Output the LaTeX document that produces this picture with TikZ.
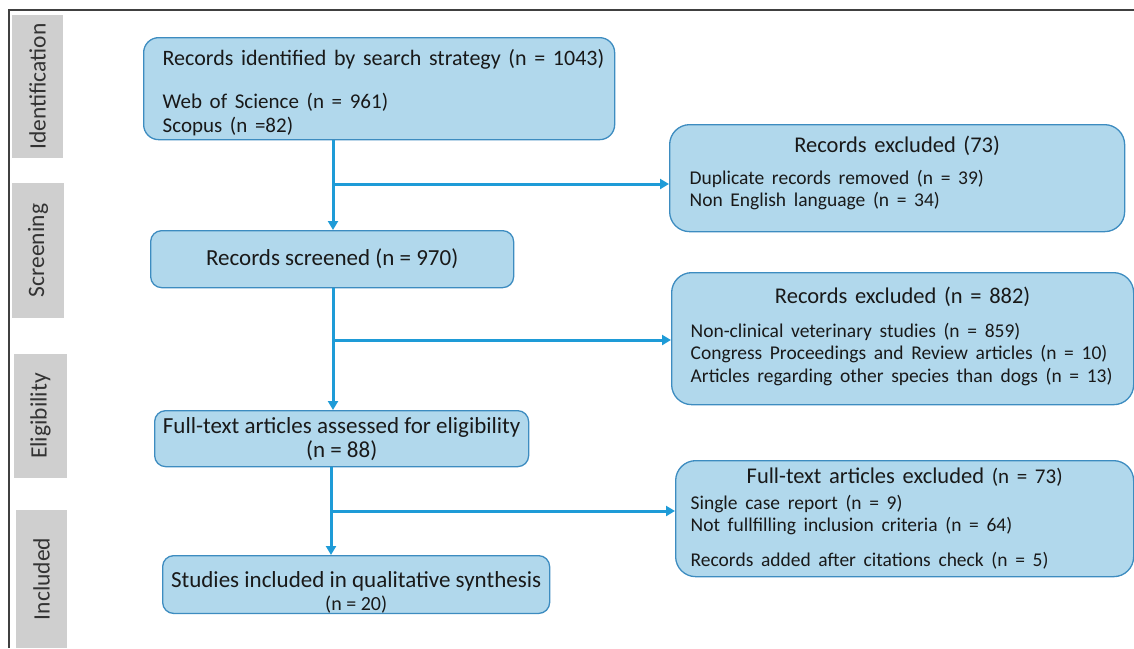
\documentclass[tikz,border=0pt]{standalone}
\usepackage{fontspec}
\setmainfont{Carlito}
\usetikzlibrary{arrows.meta}
\definecolor{boxfill}{HTML}{B1D8EC}
\definecolor{boxline}{HTML}{3D8CC0}
\definecolor{flowblue}{HTML}{1E9BD7}
\definecolor{stagegray}{HTML}{CFCFCF}
\newcommand{\headsize}{\fontsize{22.5}{25}\selectfont}
\newcommand{\itemsize}{\fontsize{19.5}{22.5}\selectfont}
\begin{document}
\begin{tikzpicture}
    [x=1pt,y=-1pt,
     box/.style={draw=boxline,fill=boxfill,line width=1.3pt,inner sep=0pt,
       font=\fontsize{23}{24}\selectfont,text=black!90},
     flow/.style={-{Triangle[length=9pt,width=10pt]},draw=flowblue,fill=flowblue,line width=3pt},
     stage/.style={fill=stagegray,rotate=90,inner sep=0pt,
       font=\fontsize{23.5}{26}\selectfont,text=black!80}]
  \useasboundingbox (0,0) rectangle (1134,648);
  \draw [line width=2pt,black!75] (9,648) -- (9,10) -- (1134,10);
  % stages
  \node [stage,minimum width=143pt,minimum height=51pt] (sIdent) at (37.5,86.5) {Identification};
  \node [stage,minimum width=135pt,minimum height=52pt] (sScreen) at (38,250.5) {Screening};
  \node [stage,minimum width=124pt,minimum height=53pt] (sElig) at (40.5,416) {Eligibility};
  \node [stage,minimum width=138pt,minimum height=51pt] (sIncl) at (41.5,579) {Included};
  % main column
  \node [box,rounded corners=15pt,anchor=north west,minimum width=471pt,minimum height=102pt,
    text width=433pt,align=left] (ident) at (143,37)
    {\rule{0pt}{24pt}\makebox[433pt][l]{\fontsize{22}{23}\selectfont Records identified by search strategy (n = 1043)}\\[20pt]
     {\fontsize{21}{23}\selectfont Web of Science (n = 961)\\Scopus (n =82)}};
  \node [box,rounded corners=11pt,anchor=north west,minimum width=363pt,minimum height=57pt] (scr) at (150,230)
    {Records screened (n = 970)};
  \node [box,rounded corners=11pt,anchor=north west,minimum width=387pt,minimum height=57pt,align=center] (incl) at (162,555)
    {\rule{0pt}{32pt}Studies included in qualitative synthesis\\[-1pt]{\fontsize{20}{20}\selectfont (n = 20)}};
  \node [box,rounded corners=11pt,anchor=north west,minimum width=374pt,minimum height=56pt,align=center] (elig) at (154,410)
    {Full-text articles assessed for eligibility\\(n = 88)};
  % excluded column
  \node [box,rounded corners=20pt,anchor=north west,minimum width=455pt,minimum height=107pt,
    text width=415pt,align=left] (ex1) at (669,124)
    {{\headsize\centering Records excluded (73)\par}\vspace{9pt}
     {\itemsize Duplicate records removed (n = 39)\\Non English language (n = 34)\par}\vspace{10pt}};
  \node [box,rounded corners=20pt,anchor=north west,minimum width=462pt,minimum height=132pt,
    text width=424pt,align=left] (ex2) at (671,272)
    {{\headsize\centering Records excluded (n = 882)\par}\vspace{11pt}
     {\itemsize Non-clinical veterinary studies (n = 859)\\Congress Proceedings and Review articles (n = 10)\\Articles regarding other species than dogs (n = 13)\par}\vspace{4pt}};
  \node [box,rounded corners=20pt,anchor=north west,minimum width=458pt,minimum height=116pt,
    text width=428pt,align=left] (ex3) at (675,460)
    {{\headsize\centering Full-text articles excluded {\fontsize{21}{22}\selectfont (n = 73)}\par}\vspace{3pt}
     {\itemsize Single case report (n = 9)\\Not fullfilling inclusion criteria (n = 64)\\[12pt]Records added after citations check (n = 5)\par}};
  % connectors
  \coordinate (j1) at (333,184);
  \coordinate (j2) at (333,340);
  \coordinate (j3) at (331,511);
  \draw [flow] (ident.south -| j1) -- (scr.north -| j1);
  \draw [flow] (j1) -- (ex1.west |- j1);
  \draw [flow] (scr.south -| j2) -- (elig.north -| j2);
  \draw [flow] (j2) -- (ex2.west |- j2);
  \draw [flow] (elig.south -| j3) -- (incl.north -| j3);
  \draw [flow] (j3) -- (ex3.west |- j3);
\end{tikzpicture}
\end{document}
